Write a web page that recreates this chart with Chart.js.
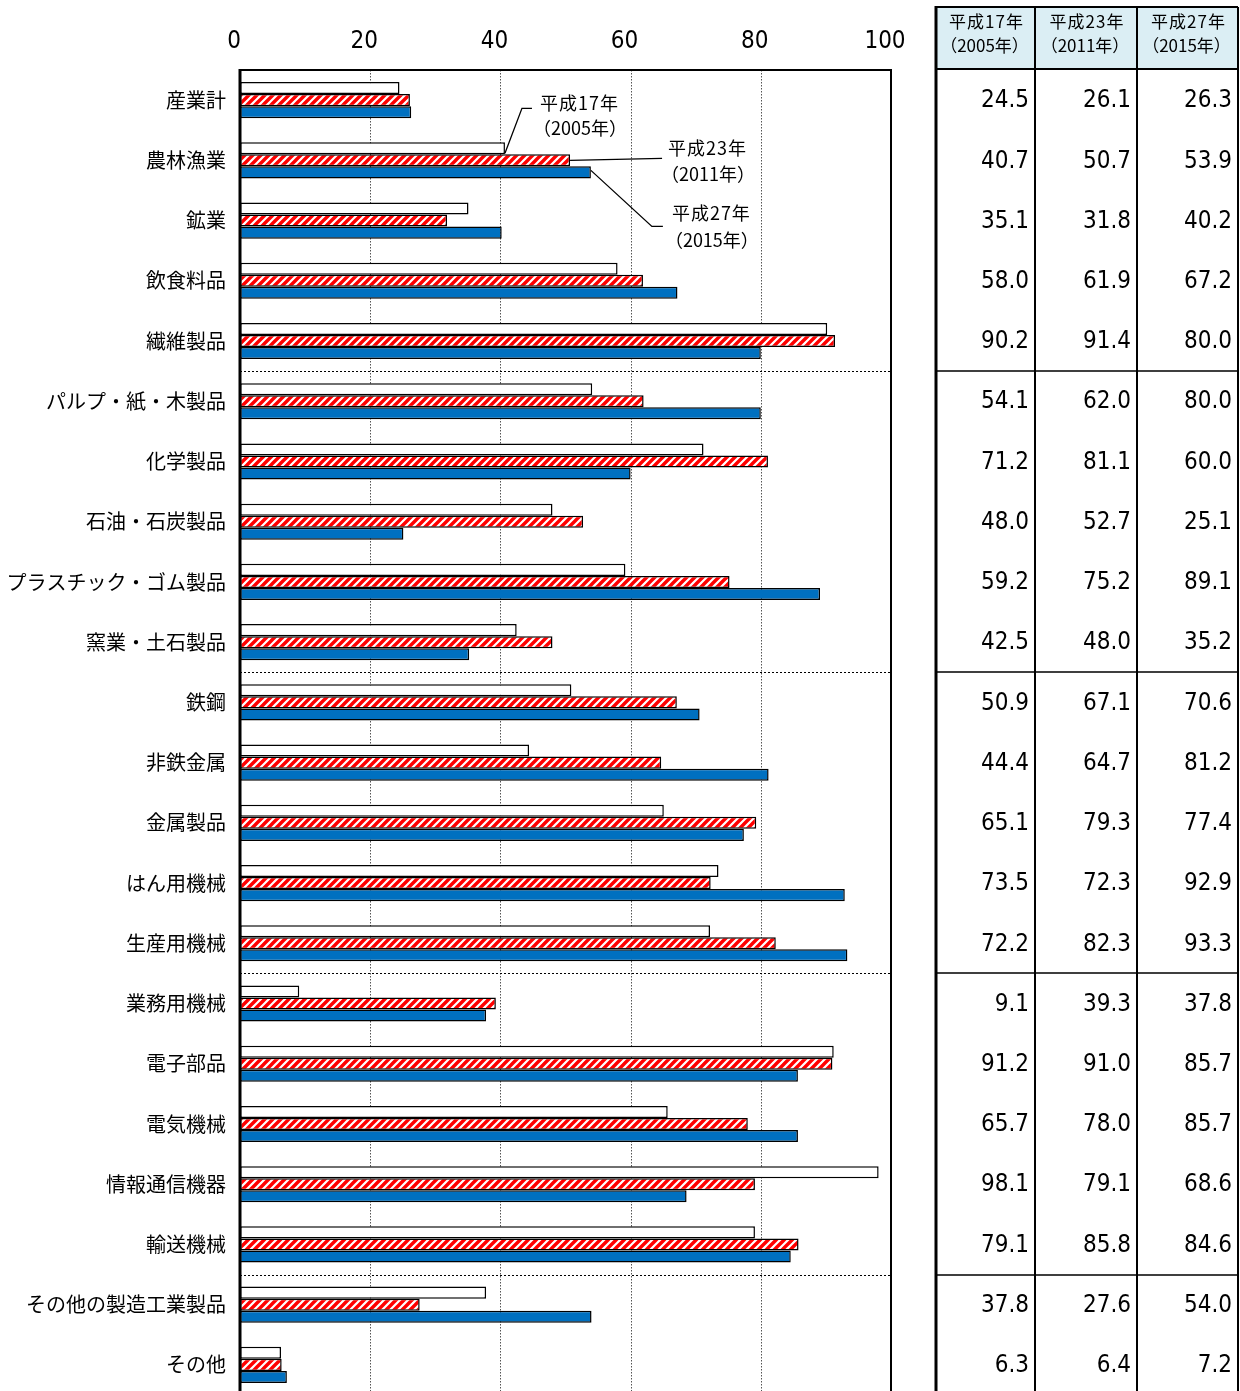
<!DOCTYPE html>
<html>
<head>
<meta charset="utf-8">
<script src="https://cdn.jsdelivr.net/npm/chart.js@4.4.0/dist/chart.umd.min.js"></script>
<style>
  html, body { margin: 0; padding: 0; background: #fff; overflow: hidden; }
  #wrap { position: relative; width: 1240px; height: 1391px; overflow: hidden; }
</style>
</head>
<body>
<div id="wrap"><canvas id="chart" width="1240" height="1421"></canvas></div>
<script>
const categories = ['産業計', '農林漁業', '鉱業', '飲食料品', '繊維製品',
    'パルプ・紙・木製品', '化学製品', '石油・石炭製品', 'プラスチック・ゴム製品', '窯業・土石製品',
    '鉄鋼', '非鉄金属', '金属製品', 'はん用機械', '生産用機械',
    '業務用機械', '電子部品', '電気機械', '情報通信機器', '輸送機械',
    'その他の製造工業製品', 'その他'];
const seriesNames = [['平成17年', '（2005年）'], ['平成23年', '（2011年）'], ['平成27年', '（2015年）']];
const v2005 = [24.5, 40.7, 35.1, 58.0, 90.2, 54.1, 71.2, 48.0, 59.2, 42.5, 50.9, 44.4, 65.1, 73.5, 72.2, 9.1, 91.2, 65.7, 98.1, 79.1, 37.8, 6.3];
const v2011 = [26.1, 50.7, 31.8, 61.9, 91.4, 62.0, 81.1, 52.7, 75.2, 48.0, 67.1, 64.7, 79.3, 72.3, 82.3, 39.3, 91.0, 78.0, 79.1, 85.8, 27.6, 6.4];
const v2015 = [26.3, 53.9, 40.2, 67.2, 80.0, 80.0, 60.0, 25.1, 89.1, 35.2, 70.6, 81.2, 77.4, 92.9, 93.3, 37.8, 85.7, 85.7, 68.6, 84.6, 54.0, 7.2];
const xTicks = [0, 20, 40, 60, 80, 100];
const groupBreaks = [5, 10, 15, 20];

const NUM_FONT = '"Liberation Sans Narrow", "DejaVu Sans Condensed", "Roboto Condensed", sans-serif';
const JP_FONT = '"Noto Sans CJK JP", sans-serif';

// red/white diagonal stripes
function stripePattern() {
    const c = document.createElement('canvas');
    c.width = 8; c.height = 8;
    const g = c.getContext('2d');
    g.fillStyle = '#fff';
    g.fillRect(0, 0, 8, 8);
    g.strokeStyle = '#ff0000';
    g.lineWidth = 3.4;
    g.beginPath();
    g.moveTo(-2, 10); g.lineTo(10, -2);
    g.moveTo(-2, 2); g.lineTo(2, -2);
    g.moveTo(6, 10); g.lineTo(10, 6);
    g.stroke();
    return g.createPattern(c, 'repeat');
}

// dotted grid, group separators and frame
const framePlugin = {
    id: 'frame',
    beforeDatasetsDraw(chart) {
        const ctx = chart.ctx, a = chart.chartArea;
        const x = chart.scales.x, y = chart.scales.y;
        ctx.save();
        ctx.strokeStyle = '#555';
        ctx.lineWidth = 1;
        ctx.setLineDash([1.5, 1.5]);
        xTicks.slice(1, -1).forEach(v => {
            const px = Math.round(x.getPixelForValue(v)) + 0.5;
            ctx.beginPath(); ctx.moveTo(px, a.top); ctx.lineTo(px, a.bottom); ctx.stroke();
        });
        ctx.strokeStyle = '#000';
        ctx.setLineDash([2, 2]);
        groupBreaks.forEach(i => {
            const py = Math.round((y.getPixelForValue(i - 1) + y.getPixelForValue(i)) / 2) + 0.5;
            ctx.beginPath(); ctx.moveTo(a.left, py); ctx.lineTo(a.right, py); ctx.stroke();
        });
        ctx.restore();
    },
    afterDatasetsDraw(chart) {
        const ctx = chart.ctx, a = chart.chartArea;
        ctx.save();
        ctx.strokeStyle = '#000';
        ctx.lineWidth = 2;
        ctx.strokeRect(a.left, a.top, a.right - a.left, a.bottom - a.top + 4);
        ctx.lineWidth = 3;
        ctx.beginPath(); ctx.moveTo(a.left, a.top - 1); ctx.lineTo(a.left, a.bottom + 4); ctx.stroke();

        // call-out labels for the three series
        const row = 1;
        const offs = [
            [[0, 0], [17, -45], [27, -45]],
            [[0, 0], [92, -2], [92, -2]],
            [[0, -2], [61, 54], [72, 54]]
        ];
        const textAt = [[35, -50, -25], [98, -12, 14], [81, 41, 68]];
        ctx.lineWidth = 1.3;
        ctx.font = '18px ' + JP_FONT;
        ctx.fillStyle = '#000';
        ctx.textAlign = 'left';
        ctx.textBaseline = 'middle';
        for (let d = 0; d < 3; d++) {
            const el = chart.getDatasetMeta(d).data[row];
            const x0 = el.x, y0 = el.y + (d === 0 ? el.height / 2 - 1 : 0);
            ctx.beginPath();
            offs[d].forEach((p, k) => {
                if (k === 0) ctx.moveTo(x0 + p[0], y0 + p[1]);
                else ctx.lineTo(x0 + p[0], y0 + p[1]);
            });
            ctx.stroke();
            ctx.letterSpacing = '1px';
            ctx.fillText(seriesNames[d][0], x0 + textAt[d][0], y0 + textAt[d][1]);
            ctx.letterSpacing = '0px';
            ctx.fillText(seriesNames[d][1], x0 + textAt[d][0] - 7, y0 + textAt[d][2]);
        }
        ctx.restore();
    },
    afterDraw(chart) {
        // value table on the right
        const ctx = chart.ctx, y = chart.scales.y;
        const cols = [936, 1035, 1137, 1238];
        const top = 7, headBottom = chart.chartArea.top - 1, bottom = 1425;
        const data = [v2005, v2011, v2015];
        ctx.save();
        ctx.fillStyle = '#dbeef4';
        ctx.fillRect(cols[0], top, cols[3] - cols[0], headBottom - top);
        ctx.fillStyle = '#000';
        ctx.textAlign = 'center';
        ctx.textBaseline = 'middle';
        ctx.font = '17px ' + JP_FONT;
        for (let d = 0; d < 3; d++) {
            const cx = (cols[d] + cols[d + 1]) / 2;
            ctx.letterSpacing = '1px';
            ctx.fillText(seriesNames[d][0], cx + 1, top + 15);
            ctx.letterSpacing = '0px';
            ctx.fillText(seriesNames[d][1], cx - 1, top + 39);
        }
        ctx.font = '24px ' + NUM_FONT;
        ctx.textAlign = 'right';
        categories.forEach((c, i) => {
            const py = y.getPixelForValue(i);
            for (let d = 0; d < 3; d++) {
                ctx.fillText(data[d][i].toFixed(1), cols[d + 1] - 6, py + 1);
            }
        });
        ctx.strokeStyle = '#000';
        ctx.lineWidth = 2;
        ctx.beginPath();
        ctx.moveTo(cols[0], top); ctx.lineTo(cols[3], top);
        ctx.moveTo(cols[0], headBottom); ctx.lineTo(cols[3], headBottom);
        for (let k = 1; k < 4; k++) { ctx.moveTo(cols[k], top); ctx.lineTo(cols[k], bottom); }
        ctx.stroke();
        ctx.lineWidth = 1.5;
        ctx.beginPath();
        groupBreaks.forEach(i => {
            const py = Math.round((y.getPixelForValue(i - 1) + y.getPixelForValue(i)) / 2);
            ctx.moveTo(cols[0], py); ctx.lineTo(cols[3], py);
        });
        ctx.stroke();
        ctx.lineWidth = 3;
        ctx.beginPath(); ctx.moveTo(cols[0], top - 1); ctx.lineTo(cols[0], bottom); ctx.stroke();
        ctx.restore();
    }
};

const barStyle = {
    borderColor: '#000',
    borderWidth: 1.5,
    borderSkipped: false,
    categoryPercentage: 0.6,
    barPercentage: 1.0
};

new Chart(document.getElementById('chart').getContext('2d'), {
    type: 'bar',
    data: {
        labels: categories,
        datasets: [
            Object.assign({ label: '平成17年', data: v2005, backgroundColor: '#ffffff' }, barStyle),
            Object.assign({ label: '平成23年', data: v2011, backgroundColor: stripePattern() }, barStyle),
            Object.assign({ label: '平成27年', data: v2015, backgroundColor: '#0070c0' }, barStyle)
        ]
    },
    options: {
        indexAxis: 'y',
        responsive: false,
        animation: false,
        layout: { padding: { left: 0, right: 349, top: 0, bottom: 1 } },
        plugins: { legend: { display: false }, tooltip: { enabled: false } },
        scales: {
            x: {
                position: 'top',
                min: 0,
                max: 100,
                afterBuildTicks: s => { s.ticks = xTicks.map(v => ({ value: v })); },
                afterFit: s => { s.height = 70; },
                grid: { display: false, drawTicks: false },
                border: { display: false },
                ticks: { color: '#000', padding: 14, labelOffset: -6, font: { family: NUM_FONT, size: 24 } }
            },
            y: {
                afterFit: s => { s.width = 240; },
                grid: { display: false, drawTicks: false },
                border: { display: false },
                ticks: { color: '#000', padding: 14, autoSkip: false, font: { family: JP_FONT, size: 20 } }
            }
        }
    },
    plugins: [framePlugin]
});
</script>
</body>
</html>
